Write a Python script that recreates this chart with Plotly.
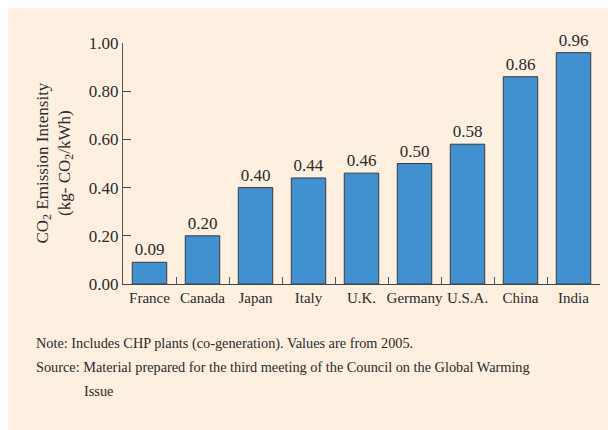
import plotly.graph_objects as go

# data
countries = ["France", "Canada", "Japan", "Italy", "U.K.", "Germany", "U.S.A.", "China", "India"]
intensity = [0.09, 0.20, 0.40, 0.44, 0.46, 0.50, 0.58, 0.86, 0.96]
y_ticks = [0.0, 0.2, 0.4, 0.6, 0.8, 1.0]

note_lines = [
    "Note: Includes CHP plants (co-generation). Values are from 2005.",
    "Source: Material prepared for the third meeting of the Council on the Global Warming",
    "Issue",
]

# layout settings (pixels); the page body adds an 8px offset, which leaves the white edge
# figure is made a bit larger than the rest of the window so the cream runs to the right/bottom edge
OFF = 8
W, H = 616, 430
L, T = 123 - OFF, 43 - OFF
pw, ph = 477, 241
R, B = W - L - pw, H - T - ph

bg = "#FDF0E1"
bar_col = "#4191D0"
txt_col = "#2b2b2b"
serif = "Liberation Serif"


# page pixel -> paper coordinate
def px_x(x):
    return (x - OFF - L) / pw


def px_y(y):
    return (T + ph - (y - OFF)) / ph


fig = go.Figure()
fig.add_trace(go.Bar(
    x=countries, y=intensity,
    marker=dict(color=bar_col, line=dict(color="#3a3a3a", width=1)),
    text=["%.2f" % v for v in intensity], textposition="outside",
    textfont=dict(family=serif, size=17, color=txt_col),
    cliponaxis=False,
))

fig.update_layout(
    width=W, height=H,
    margin=dict(l=L, r=R, t=T, b=B),
    paper_bgcolor=bg, plot_bgcolor=bg,
    bargap=0.35,
    showlegend=False,
    font=dict(family=serif, size=14, color=txt_col),
)

fig.update_yaxes(
    range=[0, 1.0], tickvals=y_ticks, tickformat=".2f",
    showgrid=False, zeroline=False,
    showline=True, linecolor="#555", linewidth=1.3,
    ticks="inside", ticklen=8, tickcolor="#444", tickwidth=1.3,
    tickfont=dict(family=serif, size=17, color=txt_col),
)
fig.update_xaxes(
    showgrid=False, showline=True, linecolor="#444", linewidth=1.3,
    ticks="inside", tickson="boundaries", ticklen=7, tickcolor="#555", tickwidth=1,
    tickangle=0,
    tickfont=dict(family=serif, size=15, color=txt_col),
)

# y axis title, two lines
fig.add_annotation(
    x=px_x(54), y=0.5, xref="paper", yref="paper",
    text="CO<sub>2</sub> Emission Intensity<br>(kg- CO<sub>2</sub>/kWh)",
    textangle=-90, showarrow=False, xanchor="center", yanchor="middle",
    font=dict(family=serif, size=17, color=txt_col),
)

# notes
for text, x0, y0 in zip(note_lines, [34, 34, 82], [343, 367, 391]):
    fig.add_annotation(x=px_x(x0), y=px_y(y0), xref="paper", yref="paper", text=text,
                       showarrow=False, xanchor="left", yanchor="middle",
                       font=dict(family=serif, size=14.3, color=txt_col))

fig.write_html("out.html")
